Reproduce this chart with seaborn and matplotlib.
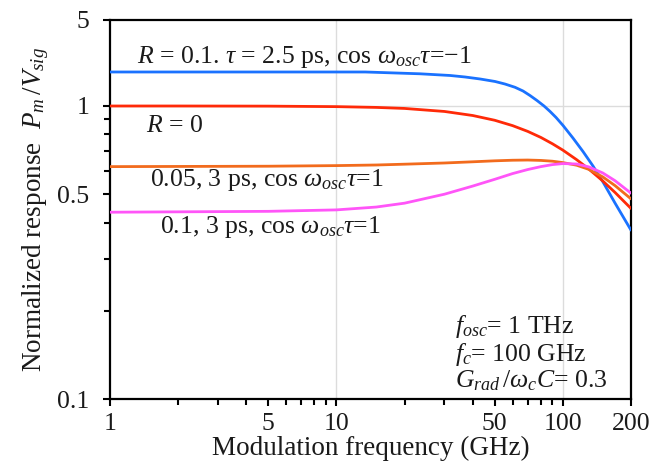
import numpy as np
import pandas as pd
import matplotlib
matplotlib.use("Agg")
import matplotlib.pyplot as plt
import matplotlib.ticker as mticker
import seaborn as sns

# ---------------- data ----------------
freq_blue = [1, 5, 10, 13.4, 23.4, 31.8, 37.0, 43.1, 50.2, 55.5, 61.5, 66.7, 71.6, 76.9,
             82.6, 87.8, 93.3, 100.2, 110.9, 122.8, 135.9, 150.5, 170.1, 200]
resp_blue = [1.89, 1.89, 1.89, 1.89, 1.827, 1.770, 1.721, 1.658, 1.582, 1.509, 1.419,
             1.324, 1.217, 1.108, 1.0, 0.958, 0.914, 0.858, 0.777, 0.699, 0.624, 0.550,
             0.466, 0.377]

freq_red = [1, 2, 5, 10, 15, 20, 30, 40, 50, 60, 70, 80, 90, 100, 115, 130, 150, 170, 200]
resp_red = [1.0, 1.0, 0.999, 0.995, 0.989, 0.981, 0.958, 0.928, 0.894, 0.857, 0.819, 0.781,
            0.743, 0.707, 0.656, 0.610, 0.555, 0.507, 0.447]

freq_orange = [1, 5, 10, 15, 20, 30, 40, 50, 60, 70, 80, 90, 100, 115, 130, 150, 170, 200]
resp_orange = [0.621, 0.623, 0.626, 0.629, 0.633, 0.639, 0.645, 0.650, 0.653, 0.654, 0.652,
               0.648, 0.641, 0.628, 0.608, 0.573, 0.535, 0.482]

freq_magenta = [1, 5, 10, 15, 20, 30, 40, 50, 60, 70, 80, 90, 100, 115, 130, 150, 170, 200]
resp_magenta = [0.434, 0.437, 0.442, 0.452, 0.466, 0.500, 0.533, 0.562, 0.588, 0.607, 0.621,
                0.631, 0.636, 0.634, 0.620, 0.591, 0.556, 0.504]

series_names = ["blue", "red", "orange", "magenta"]
series_colors = ["#1a72ff", "#ff2a08", "#f26b1d", "#ff55f8"]

x_major = [1, 5, 10, 50, 100, 200]
x_major_labels = ["1", "5", "10", "50", "100", "200"]
x_minor = [2, 3, 4, 6, 7, 8, 9, 20, 30, 40, 60, 70, 80, 90]
y_major = [0.1, 0.5, 1, 5]
y_major_labels = ["0.1", "0.5", "1", "5"]
y_minor = [0.2, 0.3, 0.4, 0.6, 0.7, 0.8, 0.9]

# ---------------- build long-form table ----------------
frames = []
for name, f, v in zip(series_names,
                      [freq_blue, freq_red, freq_orange, freq_magenta],
                      [resp_blue, resp_red, resp_orange, resp_magenta]):
    frames.append(pd.DataFrame({"f": f, "v": v, "series": name}))
df = pd.concat(frames, ignore_index=True)

# ---------------- style ----------------
sns.set_theme(style="white")
plt.rcParams["font.family"] = ["Liberation Serif", "DejaVu Serif"]
plt.rcParams["mathtext.fontset"] = "custom"
plt.rcParams["mathtext.rm"] = "Liberation Serif"
plt.rcParams["mathtext.it"] = "Liberation Serif:italic"
plt.rcParams["mathtext.bf"] = "Liberation Serif:bold"

FS = 18.5
FSL = 19.5

fig = plt.figure(figsize=(6.54, 4.67), dpi=100)
ax = fig.add_axes([110 / 654, 1 - 399 / 467, (631 - 110) / 654, (399 - 20) / 467])

sns.lineplot(data=df, x="f", y="v", hue="series", hue_order=series_names,
             palette=dict(zip(series_names, series_colors)), sort=False,
             estimator=None, linewidth=2.0, legend=False, ax=ax, zorder=3)

# y scale: logarithmic below 1, compressed above 1 (as in the reference)
K = 86.0 / (np.log10(5) * 293.0)


def fwd(y):
    y = np.log10(np.maximum(np.asarray(y, dtype=float), 1e-12))
    return np.where(y <= 0, y, y * K)


def inv(z):
    z = np.asarray(z, dtype=float)
    return np.where(z <= 0, 10 ** z, 10 ** (z / K))


ax.set_xscale("log")
ax.set_yscale("function", functions=(fwd, inv))
ax.set_xlim(1, 200)
ax.set_ylim(0.1, 5)

ax.xaxis.set_major_locator(mticker.FixedLocator(x_major))
ax.xaxis.set_major_formatter(mticker.FixedFormatter(x_major_labels))
ax.xaxis.set_minor_locator(mticker.FixedLocator(x_minor))
ax.xaxis.set_minor_formatter(mticker.NullFormatter())
ax.yaxis.set_major_locator(mticker.FixedLocator(y_major))
ax.yaxis.set_major_formatter(mticker.FixedFormatter(y_major_labels))
ax.yaxis.set_minor_locator(mticker.FixedLocator(y_minor))
ax.yaxis.set_minor_formatter(mticker.NullFormatter())

# light grid at decades
for gx in [10, 100]:
    ax.axvline(gx, color="#dcdcdc", lw=1.0, zorder=0)
ax.axhline(1, color="#dcdcdc", lw=1.0, zorder=0)

for s in ax.spines.values():
    s.set_color("black")
    s.set_linewidth(1.6)
    s.set_visible(True)

ax.tick_params(axis="both", which="both", direction="out", color="black",
               width=1.5, bottom=True, left=True, top=False, right=False,
               labelsize=FS, labelcolor="#1a1a1a")
ax.tick_params(axis="both", which="major", length=5)
ax.tick_params(axis="both", which="minor", length=4)
ax.tick_params(axis="y", which="major", pad=10)
ax.tick_params(axis="x", which="major", pad=5)

ax.set_xlabel("Modulation frequency (GHz)", fontsize=FSL, color="#1a1a1a", labelpad=1)
ax.set_ylabel(r"Normalized response  $P_m\,/V_{sig}$", fontsize=FSL, color="#1a1a1a",
              labelpad=4)

# ---------------- annotations ----------------
def ftext(x, y, s, **kw):
    fig.text(x / 654, 1 - y / 467, s, fontsize=FS, color="#1a1a1a", va="center",
             ha="left", **kw)


ftext(137, 57, r"$R$ = 0.1. $\tau$ = 2.5 ps, cos $\omega_{osc}\tau$=−1")
ftext(146, 126, r"$R$ = 0")
ftext(150, 180, r"0.05, 3 ps, cos $\omega_{osc}\tau$=1")
ftext(160, 227, r"0.1, 3 ps, cos $\omega_{osc}\tau$=1")
ftext(455, 327, r"$f_{osc}$= 1 THz")
ftext(455, 354, r"$f_c$= 100 GHz")
ftext(455, 381, r"$G_{rad}\,/\omega_c C$= 0.3")

fig.savefig("out.png", dpi=100)
